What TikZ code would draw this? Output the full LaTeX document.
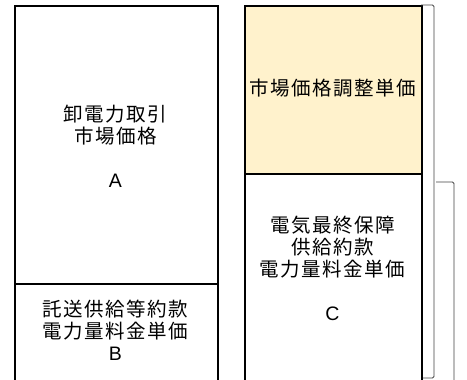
\documentclass[tikz,border=0pt]{standalone}
\usepackage{fontspec}
\newfontfamily\jp{Noto Sans CJK JP}[LetterSpace=8]
\newfontfamily\lat{Liberation Sans}
\definecolor{adjfill}{HTML}{FFF2CC}
\definecolor{brk}{HTML}{404040}
\begin{document}
\begin{tikzpicture}[x=1pt,y=-1pt,
  box/.style={draw=black, line width=2pt, anchor=north west, inner sep=0pt},
  lbl/.style={font=\jp\fontsize{19.5}{22}\selectfont, align=center, inner sep=0pt},
  brace/.style={draw=brk, line width=0.9pt, rounded corners=1.5pt}]
\useasboundingbox (0,0) rectangle (467,380);
\begin{scope}
\clip (0,0) rectangle (467,380);
\node[box, minimum width=203pt, minimum height=278pt] (A) at (14,5) {};
\node[box, minimum width=203pt, minimum height=140pt] (B) at (14,283) {};
\node[box, fill=adjfill, minimum width=177pt, minimum height=168pt] (R1) at (244,5) {};
\node[box, minimum width=177pt, minimum height=240pt] (C) at (244,173) {};
\node[lbl] (tA) at (115.5,146) {卸電力取引\\市場価格\\[22pt]{\lat A}};
\node[lbl] (tB) at (115.5,330) {託送供給等約款\\電力量料金単価\\{\lat B}};
\node[lbl] (tR) at (332.5,88) {市場価格調整単価};
\node[lbl] (tC) at (332.5,268) {電気最終保障\\供給約款\\電力量料金単価\\[22pt]{\lat C}};
\coordinate (b1t) at (421,5);
\coordinate (b1b) at (423,378);
\coordinate (b2t) at (436,182);
\draw[brace] (b1t) -- (434,5) -- (434,378) -- (b1b);
\draw[brace] (b2t) -- (454,182) -- (454,400);
\end{scope}
\end{tikzpicture}
\end{document}
